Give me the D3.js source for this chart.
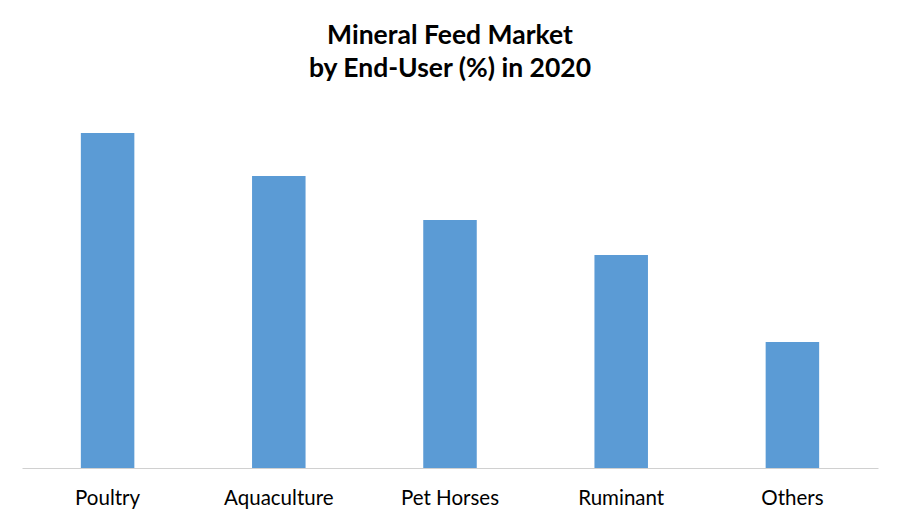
<!DOCTYPE html>
<html><head><meta charset="utf-8">
<script src="https://cdn.jsdelivr.net/npm/d3@7"></script>
<style>body{margin:0;background:#fff}svg{display:block}</style>
</head><body>
<svg id="c" width="900" height="525"></svg>
<script>
const categories = ["Poultry", "Aquaculture", "Pet Horses", "Ruminant", "Others"];
const values = [33.5, 29.2, 24.8, 21.3, 12.6];
const titleLines = ["Mineral Feed Market", "by End-User (%) in 2020"];

(function () {
const svg = d3.select("#c");
const W = 900, H = 525;
const plotLeft = 22, plotRight = 878, base = 468, plotTop = 133;
const x = d3.scaleBand().domain(categories).range([plotLeft, plotRight]).paddingInner(0.6875).paddingOuter(0.34375);
const y = d3.scaleLinear().domain([0, d3.max(values)]).range([base, plotTop]);

svg.append("rect").attr("width", W).attr("height", H).attr("fill", "#fff");

svg.selectAll(".t").data(titleLines).enter().append("text")
  .attr("x", 450).attr("y", (d, i) => 44 + i * 33)
  .attr("text-anchor", "middle")
  .attr("font-family", "Lato, 'Open Sans', sans-serif")
  .attr("font-weight", "bold").attr("font-size", 26.5).attr("fill", "#000")
  .text(d => d);

svg.selectAll(".bar").data(values).enter().append("rect")
  .attr("x", (d, i) => x(categories[i]))
  .attr("y", d => y(d))
  .attr("width", x.bandwidth())
  .attr("height", d => base - y(d))
  .attr("fill", "#5b9bd5");

const axis = d3.axisBottom(x).tickSize(0).tickPadding(0);
const g = svg.append("g").attr("transform", `translate(0,${base})`).call(axis);
g.select(".domain").attr("stroke", "#d0d0d0").attr("stroke-width", 1);
g.selectAll("text").attr("font-family", "Lato, 'Open Sans', sans-serif")
  .attr("font-size", 20.5).attr("fill", "#000").attr("dy", 0).attr("y", 37);
})();
</script>
</body></html>
